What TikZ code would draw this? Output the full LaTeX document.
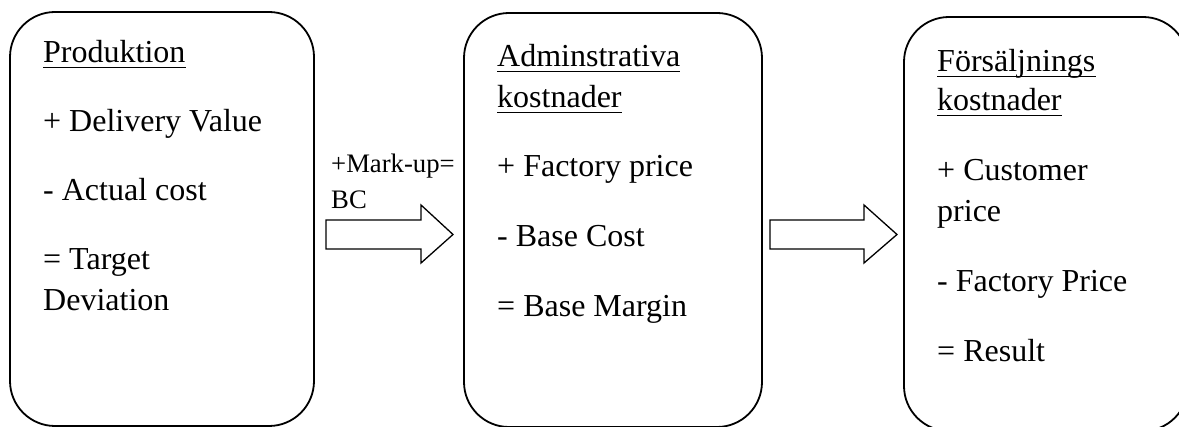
\documentclass[tikz,border=0pt]{standalone}
\usepackage{fontspec}
\setmainfont{Liberation Serif}
\usetikzlibrary{calc}

\tikzset{
  stage/.style={draw, line width=1.8pt, rounded corners=45pt, inner sep=0pt},
  body/.style={anchor=base west, inner sep=0pt, font=\fontsize{32}{38}\selectfont},
  small/.style={anchor=base west, inner sep=0pt, font=\fontsize{26.7}{32}\selectfont},
  uline/.style={line width=1.6pt},
  blockarrow/.style={draw, line width=1.3pt, line join=miter, fill=white}
}

\newcommand{\heading}[3]{%
  \node[body] (#1) at (#2) {#3};
  \draw[uline] ($(#1.base west)+(0,4.5)$) -- ($(#1.base east)+(0,4.5)$);
}

\begin{document}
\begin{tikzpicture}[x=1pt, y=-1pt]
\useasboundingbox (0,0) rectangle (1179,427);
\clip (0,0) rectangle (1179,427);

% three cost stages
\node[stage, minimum width=304pt, minimum height=414pt] (prod) at (162,219) {};
\node[stage, minimum width=298pt, minimum height=414pt] (adm)  at (613,220) {};
\node[stage, minimum width=284pt, minimum height=414pt] (sale) at (1046,224) {};

% Produktion
\heading{h1}{43,63}{Produktion}
\node[body] (p1) at (43,132) {+ Delivery Value};
\node[body] (p2) at (43,201) {- Actual cost};
\node[body] (p3) at (43,270) {= Target};
\node[body] (p4) at (43,311) {Deviation};

% Administrativa kostnader
\heading{h2}{497,67}{Adminstrativa}
\heading{h3}{497,108}{kostnader}
\node[body] (a1) at (497,177) {+ Factory price};
\node[body] (a2) at (497,247) {- Base Cost};
\node[body] (a3) at (497,317) {= Base Margin};

% Forsaljningskostnader
\heading{h4}{937,72}{Försäljnings}
\heading{h5}{937,111}{kostnader}
\node[body] (s1) at (937,181) {+ Customer};
\node[body] (s2) at (937,222) {price};
\node[body] (s3) at (937,292) {- Factory Price};
\node[body] (s4) at (937,362) {= Result};

% transfer label
\node[small] (mk1) at (331,173) {+Mark-up=};
\node[small] (mk2) at (331,209) {BC};

% block arrows between the stages
\coordinate (t1) at ($(prod.east)!0.5!(adm.west)$);
\draw[blockarrow] (326,220) -- (421,220) -- (421,205) -- (453,234.5)
  -- (421,263) -- (421,249) -- (326,249) -- cycle;
\draw[blockarrow] (770,220) -- (864,220) -- (864,205) -- (897,234.5)
  -- (864,263) -- (864,249) -- (770,249) -- cycle;
\end{tikzpicture}
\end{document}
